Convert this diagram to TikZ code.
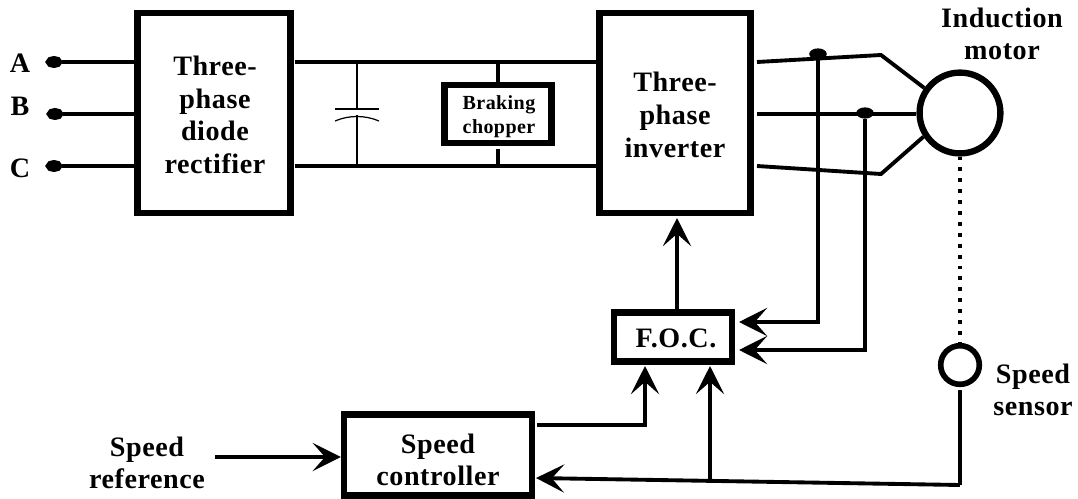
\documentclass[tikz,border=0pt]{standalone}
\usepackage{fontspec}
\setmainfont[LetterSpace=2]{Liberation Serif}
\usetikzlibrary{arrows.meta, positioning, calc, shapes.geometric}
\tikzset{
    block/.style={draw, line width=1.8pt, inner sep=0pt},
    lbl/.style={align=center, inner sep=0pt, font=\fontsize{8}{9.3}\selectfont\bfseries},
    wire/.style={line width=1.1pt},
    sig/.style={line width=1.1pt, -{Stealth[length=8pt, width=8pt, inset=3.5pt]}},
    terminal/.style={ellipse, draw, fill=white, line width=1.6pt, minimum width=3.1pt, minimum height=1.8pt, inner sep=0pt},
    junction/.style={ellipse, fill=black, minimum width=5pt, minimum height=3.2pt, inner sep=0pt},
    ring/.style={circle, draw, inner sep=0pt},
}
\begin{document}
\begin{tikzpicture}[x=0.1mm, y=-0.1mm]
    \useasboundingbox (0,0) rectangle (1078,499);
    % Blocks
    \node[block, minimum width=43.5pt, minimum height=56.9pt] (rect) at (214,113) {};
    \node[block, minimum width=43pt, minimum height=56.9pt] (inv) at (675,113) {};
    \node[block, minimum width=30.5pt, minimum height=16.5pt] (chop) at (498,114) {};
    \node[block, minimum width=33.5pt, minimum height=14pt] (foc) at (673,337) {};
    \node[block, minimum width=53.5pt, minimum height=23pt] (ctrl) at (438,455) {};
    \node[ring, line width=1.8pt, minimum size=23pt] (motor) at (960,113) {};
    \node[ring, line width=1.6pt, minimum size=11pt] (sensor) at (960,365) {};
    % Labels
    \node[lbl] (txtrect) at (215,115) {Three-\\phase\\diode\\rectifier};
    \node[lbl] (txtinv) at (675,115) {Three-\\phase\\inverter};
    \node[lbl, font=\fontsize{5.7}{6.9}\selectfont\bfseries] (txtchop) at (499,117) {Braking\\chopper};
    \node[lbl] (txtfoc) at (676,338) {F.O.C.};
    \node[lbl] (txtctrl) at (438,460) {Speed\\controller};
    \node[lbl] (lblA) at (20,63) {A};
    \node[lbl] (lblB) at (20,106) {B};
    \node[lbl] (lblC) at (20,168) {C};
    \node[lbl] (lblmotor) at (1002,34) {Induction\\motor};
    \node[lbl] (lblsensor) at (1033,390) {Speed\\sensor};
    \node[lbl] (lblref) at (147,463) {Speed\\reference};
    % Three-phase input
    \node[terminal] (termA) at (54,62) {};
    \node[terminal] (termB) at (55,114) {};
    \node[terminal] (termC) at (54,166) {};
    \draw[wire] (termA) -- (termA -| rect.west);
    \draw[wire] (termB) -- (termB -| rect.west);
    \draw[wire] (termC) -- (termC -| rect.west);
    % DC link
    \coordinate (railtopL) at (295,62);
    \coordinate (railbotL) at (295,166);
    \draw[wire] (railtopL) -- (railtopL -| inv.west);
    \draw[wire] (railbotL) -- (railbotL -| inv.west);
    \draw[wire] (chop.north) -- (chop.north |- railtopL);
    \coordinate (chopbot) at ($(chop.south)+(0,3)$);
    \draw[wire] (chopbot) -- (chopbot |- railbotL);
    % Capacitor
    \coordinate (captop) at (357,62);
    \coordinate (capbot) at (357,166);
    \coordinate (capupper) at (357,109);
    \coordinate (caplower) at (357,115);
    \draw[line width=0.35pt] (captop) -- (capupper);
    \draw[line width=0.35pt] (caplower) -- (capbot);
    \draw[line width=0.35pt] ($(capupper)+(-22,0)$) -- ($(capupper)+(22,0)$);
    \draw[line width=0.35pt] ($(caplower)+(-22,6)$) .. controls ($(caplower)+(-8,0)$) and ($(caplower)+(8,0)$) .. ($(caplower)+(22,6)$);
    % Inverter to motor
    \coordinate (outA) at (757,62);
    \coordinate (outB) at (757,114);
    \coordinate (outC) at (757,166);
    \coordinate (bendA) at (881,55);
    \coordinate (bendC) at (881,174);
    \draw[wire] (outA) -- (bendA) -- (motor.145);
    \draw[wire] (outB) -- (outB -| motor.west);
    \draw[wire] (outC) -- (bendC) -- (motor.213);
    % Current measurements
    \node[junction] (junA) at (818,54) {};
    \node[junction] (junB) at (865,113) {};
    \coordinate (focA) at (739,322);
    \coordinate (focB) at (739,350);
    \draw[sig] (junA) |- (focA);
    \draw[sig] (junB) |- (focB);
    % Control path
    \coordinate (invin) at (677,218);
    \draw[sig] (invin |- foc.north) -- (invin);
    \draw[wire, dotted, line width=1.2pt] (motor.south) -- (sensor.north);
    \coordinate (refin) at (215,457);
    \draw[sig] (refin) -- (refin -| ctrl.west);
    \coordinate (ctrlout) at (537,425);
    \coordinate (focC) at (645,366);
    \draw[sig] (ctrlout) -| (focC);
    \coordinate (fbcorner) at (960,485);
    \coordinate (fbend) at (536,478);
    \coordinate (fbtap) at (710,480);
    \coordinate (focD) at (710,366);
    \draw[wire] ($(sensor.south)+(0,3)$) -- (fbcorner);
    \draw[sig] (fbcorner) -- (fbend);
    \draw[sig, line width=1pt] (fbtap) -- (focD);
\end{tikzpicture}
\end{document}
